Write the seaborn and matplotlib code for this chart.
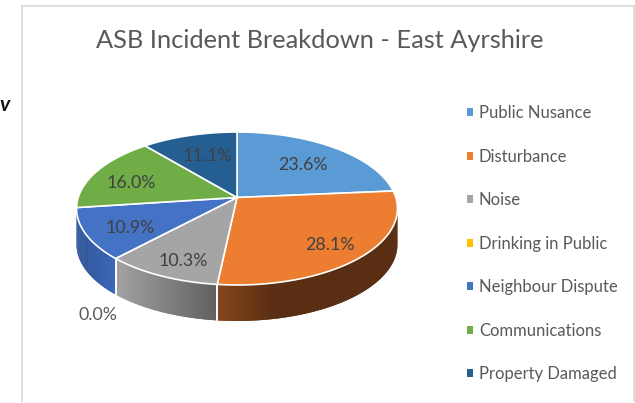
import numpy as np
import matplotlib
matplotlib.use("Agg")
import matplotlib.pyplot as plt
from matplotlib.patches import Patch
from matplotlib.colors import to_rgb
import seaborn as sns

categories = ["Public Nusance", "Disturbance", "Noise", "Drinking in Public",
              "Neighbour Dispute", "Communications", "Property Damaged"]
shares = [23.6, 28.1, 10.3, 0.0, 10.9, 16.0, 11.1]
colors = ["#5B9BD5", "#ED7D31", "#A5A5A5", "#FFC000", "#4472C4", "#70AD47", "#255E91"]
title = "ASB Incident Breakdown - East Ayrshire"
label_xy = [(303, 165), (330, 245), (183, 261), (98, 315), (130, 228), (131, 183), (207, 156)]
# rim shade (left end, right end) for the slices whose side wall is visible
rim_shade = {1: ("#85461c", "#5a2e12"), 2: ("#a3a3a3", "#606060"), 4: ("#2f5597", "#3c68b8")}

sns.set_theme(style="white")
plt.rcParams["font.family"] = ["Lato", "DejaVu Sans"]

fig = plt.figure(figsize=(6.35, 4.03), dpi=100, facecolor="white")
ax = fig.add_axes([0, 0, 1, 1])
ax.set_xlim(0, 635)
ax.set_ylim(403, 0)
ax.axis("off")

# perspective projection of a flat disc
HX, HY, K, A, B, DEPTH = 237.0, 197.5, 0.1438, 158.8, 74.9, 36.0


def project(theta):
    u, v = np.sin(theta), np.cos(theta)
    w = 1 + K * v
    return HX + A * u / w, HY - B * v / w


edges = np.radians(np.concatenate([[0], np.cumsum(shares)]) * 3.6)
visible_lo = np.pi - np.arccos(K)  # right extreme of the rim
visible_hi = 2 * np.pi - visible_lo

# side wall
for i, (a0, a1) in enumerate(zip(edges[:-1], edges[1:])):
    lo, hi = max(a0, visible_lo), min(a1, visible_hi)
    if i not in rim_shade or hi <= lo:
        continue
    th = np.linspace(lo, hi, 70)
    xs, ys = project(th)
    left, right = xs.min(), xs.max()
    c0, c1 = map(np.array, map(to_rgb, rim_shade[i]))
    for j in range(len(th) - 1):
        t = ((xs[j] + xs[j + 1]) / 2 - left) / (right - left)
        if i == 1:
            t = min(1.0, t * 3.2)
        col = c0 + (c1 - c0) * t
        k = min(j + 2, len(th) - 1)  # overlap the next strip so no seams show
        ax.fill([xs[j], xs[k], xs[k], xs[j]],
                [ys[j], ys[k], ys[k] + DEPTH, ys[j] + DEPTH],
                facecolor=col, edgecolor="none", zorder=2)
    for e in (lo, hi):
        if visible_lo < e < visible_hi:
            x, y = project(e)
            ax.plot([x, x], [y, y + DEPTH], color="white", lw=1.2, zorder=3)

# top face
for i, (a0, a1) in enumerate(zip(edges[:-1], edges[1:])):
    if a1 <= a0:
        continue
    xs, ys = project(np.linspace(a0, a1, 80))
    ax.fill(np.r_[HX, xs], np.r_[HY, ys], facecolor=colors[i], edgecolor="white",
            lw=1.2, joinstyle="round", zorder=4)

# data labels
for (x, y), s in zip(label_xy, shares):
    ax.text(x, y, f"{s:.1f}%", ha="center", va="center", fontsize=12.8,
            color="#595959" if s == 0 else "#404040", zorder=5)

ax.text(320, 40, title, ha="center", va="center", fontsize=18.3, color="#595959")

handles = [Patch(facecolor=c, edgecolor="none") for c in colors]
ax.legend(handles, categories, loc="upper left", bbox_to_anchor=(467 / 635, 1 - 105 / 403),
          frameon=False, fontsize=12, labelcolor="#595959", handlelength=0.36, handleheight=0.36,
          handletextpad=0.36, labelspacing=1.65, borderpad=0, borderaxespad=0)

# chart frame and the stray fragment at the left of the page
frame = "#d9d9d9"
ax.plot([22, 22, 634, 634], [402, 5.5, 5.5, 402], color=frame, lw=1.2, zorder=1,
        solid_capstyle="butt")
ax.text(-1, 105, "v", ha="left", va="center", fontsize=15, color="#111111",
        style="italic", fontweight="bold")

fig.savefig("out.png", dpi=100)
